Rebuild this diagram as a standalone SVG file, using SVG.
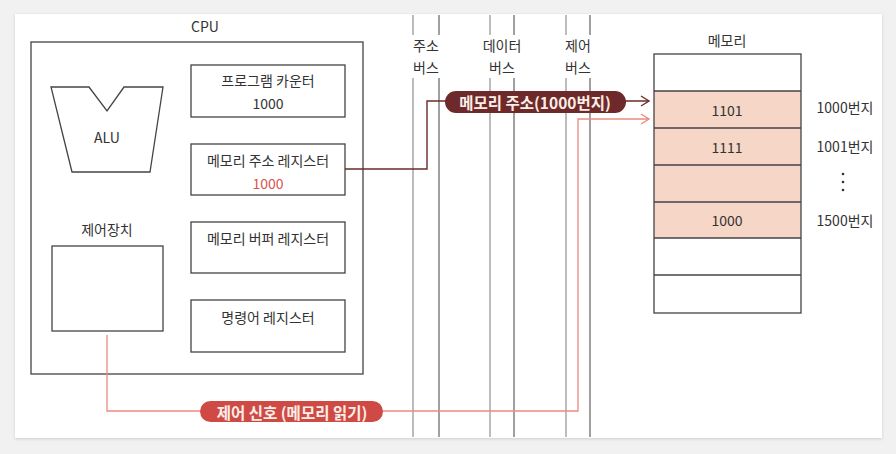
<svg xmlns="http://www.w3.org/2000/svg" width="896" height="454" viewBox="0 0 896 454">
<defs>
<style>
.t{font-family:"Noto Sans CJK KR","Noto Sans",sans-serif;font-size:14px;fill:#333;text-anchor:middle;dominant-baseline:central}
.box{fill:none;stroke:#444;stroke-width:1.3}
.bus{stroke:#9a9a9a;stroke-width:1.3;fill:none}
.bus2{stroke:#6e6e6e;stroke-width:1.3;fill:none}
.cell{fill:#f6d6c6;stroke:none}
.pill{font-family:"Noto Sans CJK KR","Noto Sans",sans-serif;font-size:15.5px;font-weight:bold;fill:#fbeee6;text-anchor:middle;dominant-baseline:central}
</style>
<marker id="ah1" markerWidth="12" markerHeight="12" refX="10" refY="6" orient="auto" markerUnits="userSpaceOnUse">
<path d="M2,1 L10,6 L2,11" fill="none" stroke="#6e2a2a" stroke-width="1.4"/>
</marker>
<marker id="ah2" markerWidth="12" markerHeight="12" refX="10" refY="6" orient="auto" markerUnits="userSpaceOnUse">
<path d="M2,1 L10,6 L2,11" fill="none" stroke="#ea8a80" stroke-width="1.4"/>
</marker>
<filter id="sh" x="-5%" y="-5%" width="110%" height="110%">
<feDropShadow dx="0" dy="1" stdDeviation="1.5" flood-color="#000" flood-opacity="0.15"/>
</filter>
</defs>
<rect x="0" y="0" width="896" height="454" fill="#f1f1f1"/>
<rect x="15" y="14" width="867" height="424" fill="#ffffff" filter="url(#sh)"/>

<g id="buses">
<path class="bus" d="M413,15 V35 M413,78 V437 M490,15 V35 M490,78 V437 M566,15 V35 M566,78 V437"/>
<path class="bus2" d="M439,15 V35 M439,78 V437 M514,15 V35 M514,78 V437 M590,15 V35 M590,78 V437"/>
<text class="t" x="426" y="45">주소</text>
<text class="t" x="426" y="67">버스</text>
<text class="t" x="502" y="45">데이터</text>
<text class="t" x="502" y="67">버스</text>
<text class="t" x="578" y="45">제어</text>
<text class="t" x="578" y="67">버스</text>
</g>

<g id="cpu">
<text class="t" x="205" y="26">CPU</text>
<rect class="box" x="31" y="42" width="332" height="332"/>
</g>
<g id="alu">
<path class="box" d="M51,87 L89,87 L107,111 L124,87 L163,87 L150,172 L72,172 Z"/>
<text class="t" x="107" y="137">ALU</text>
</g>
<g id="pc">
<rect class="box" x="191" y="65" width="154" height="52"/>
<text class="t" x="268" y="80">프로그램 카운터</text>
<text class="t" x="268" y="103">1000</text>
</g>
<g id="mar">
<rect class="box" x="191" y="144" width="154" height="51"/>
<text class="t" x="268" y="160">메모리 주소 레지스터</text>
<text class="t" x="268" y="183" style="fill:#d9534f">1000</text>
</g>
<g id="mbr">
<rect class="box" x="191" y="222" width="154" height="51"/>
<text class="t" x="268" y="238">메모리 버퍼 레지스터</text>
</g>
<g id="ir">
<rect class="box" x="191" y="300" width="154" height="52"/>
<text class="t" x="268" y="317">명령어 레지스터</text>
</g>
<g id="cu">
<text class="t" x="107" y="229">제어장치</text>
<rect class="box" x="52" y="246" width="111" height="85"/>
</g>

<g id="memory">
<text class="t" x="727" y="40">메모리</text>
<rect class="cell" x="654" y="91" width="147" height="147"/>
<rect class="box" x="654" y="54" width="147" height="259"/>
<path class="box" d="M654,91 H801 M654,128 H801 M654,165 H801 M654,202 H801 M654,238 H801 M654,275 H801"/>
<text class="t" x="727" y="110">1101</text>
<text class="t" x="727" y="147">1111</text>
<text class="t" x="727" y="220">1000</text>
<text class="t" x="845" y="107">1000번지</text>
<text class="t" x="845" y="146">1001번지</text>
<circle cx="843" cy="174" r="1.3" fill="#333"/>
<circle cx="843" cy="182" r="1.3" fill="#333"/>
<circle cx="843" cy="190" r="1.3" fill="#333"/>
<text class="t" x="845" y="220">1500번지</text>
</g>

<g id="connectors">
<path d="M345,169 H427 V101 H649" fill="none" stroke="#6e2a2a" stroke-width="1.4" marker-end="url(#ah1)"/>
<path d="M107,335 V411 H578 V119 H649" fill="none" stroke="#ea8a80" stroke-width="1.3" marker-end="url(#ah2)"/>
<rect x="445" y="91" width="181" height="22" rx="11" fill="#6e2a2a"/>
<text class="pill" x="535" y="102">메모리 주소(1000번지)</text>
<rect x="200" y="401" width="183" height="21" rx="10.5" fill="#cf4a45"/>
<text class="pill" x="292" y="411.5">제어 신호 (메모리 읽기)</text>
</g>
</svg>
